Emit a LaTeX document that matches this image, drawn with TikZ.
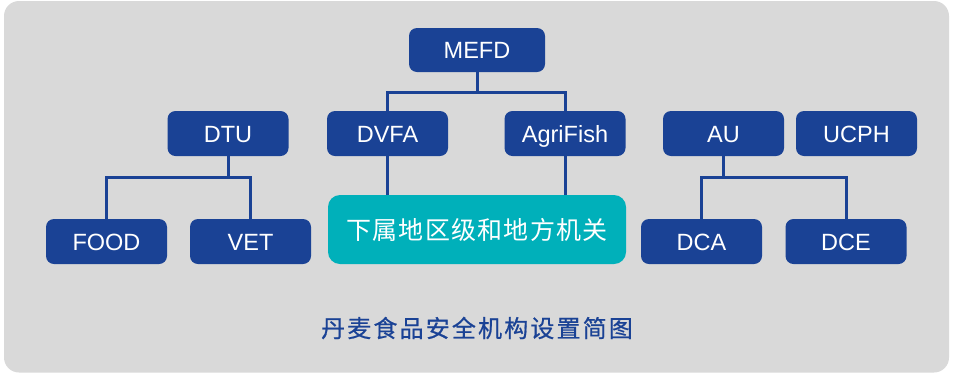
\documentclass[tikz,border=0pt]{standalone}
\usepackage{fontspec}
\setmainfont{Liberation Sans}
\newfontfamily\cjk[LetterSpace=5]{Noto Sans CJK SC}
\newfontfamily\cjkcap[LetterSpace=9,FakeBold=0.6]{Noto Sans CJK SC}
\definecolor{boxblue}{HTML}{1A4295}
\definecolor{teal2}{HTML}{00B0BA}
\definecolor{bg}{HTML}{D9D9D9}
\tikzset{
  orgbox/.style={fill=boxblue, rounded corners=8pt, text=white, inner sep=0pt,
    minimum width=121pt, minimum height=45pt, text height=17pt, text depth=0pt,
    font=\fontsize{23.5}{28}\selectfont},
  subbox/.style={fill=teal2, rounded corners=12pt, text=white, inner sep=0pt,
    minimum width=298pt, minimum height=69pt, font=\fontsize{25}{28}\cjk},
  link/.style={draw=boxblue, line width=3pt}
}
\begin{document}
\begin{tikzpicture}[x=1pt,y=-1pt]
\useasboundingbox (0,0) rectangle (955,373);
\fill[bg, rounded corners=15pt] (4,1) rectangle (949,372.5);
\node[orgbox, minimum width=136pt, minimum height=44pt] (MEFD) at (477,50) {MEFD};
\node[orgbox] (DTU) at (228,133.5) {DTU};
\node[orgbox] (DVFA) at (387.5,133.5) {DVFA};
\node[orgbox] (Agri) at (565,133.5) {AgriFish};
\node[orgbox] (AU) at (723.5,133.5) {AU};
\node[orgbox] (UCPH) at (856.5,133.5) {UCPH};
\node[orgbox] (FOOD) at (106.5,241.5) {FOOD};
\node[orgbox] (VET) at (250.5,241.5) {VET};
\node[subbox] (LOCAL) at (477,229.5) {下属地区级和地方机关};
\node[orgbox] (DCA) at (701.5,241.5) {DCA};
\node[orgbox] (DCE) at (846,241.5) {DCE};
\node[text=boxblue, font=\fontsize{24}{28}\cjkcap, inner sep=0pt] (cap) at (477,328) {丹麦食品安全机构设置简图};
\draw[link] (MEFD.south) -- ++(0,20) -| (DVFA.north);
\draw[link] (MEFD.south) -- ++(0,20) -| (Agri.north);
\draw[link] (DVFA.south) -- (DVFA.south |- LOCAL.north);
\draw[link] (Agri.south) -- (Agri.south |- LOCAL.north);
\draw[link] (DTU.south) -- ++(0,21) -| (FOOD.north);
\draw[link] (DTU.south) -- ++(0,21) -| (VET.north);
\draw[link] (AU.south) -- ++(0,21) -| (DCA.north);
\draw[link] (AU.south) -- ++(0,21) -| (DCE.north);
\end{tikzpicture}
\end{document}
